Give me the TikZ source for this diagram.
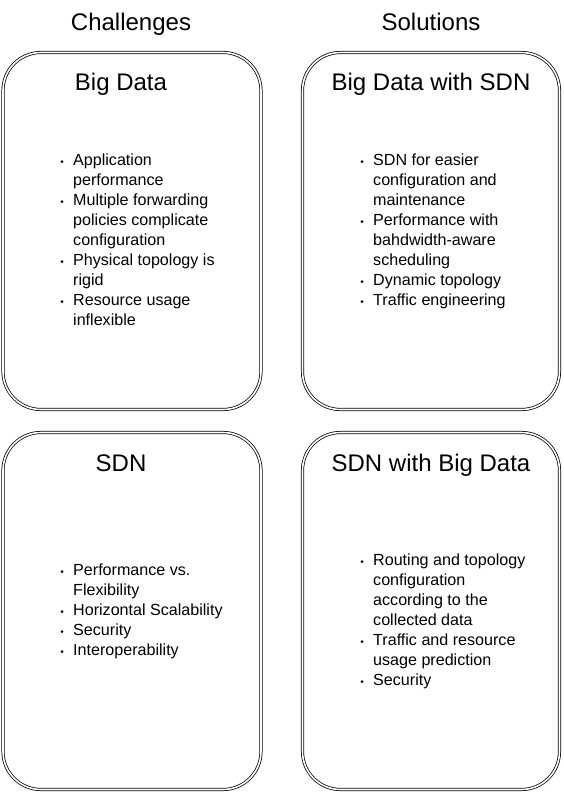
\documentclass[tikz,border=0pt]{standalone}
\usepackage{fontspec}
\setmainfont{Liberation Sans}
\begin{document}
\begin{tikzpicture}[x=1pt,y=-1pt,
  panel/.style={draw=black,double=white,double distance=1.6pt,line width=0.75pt,rounded corners=38pt},
  head/.style={anchor=base,inner sep=0pt,font=\fontsize{24}{24}\selectfont},
  item/.style={anchor=base west,inner sep=0pt,font=\fontsize{16.1}{20}\selectfont},
  bul/.style={circle,fill=black,inner sep=0pt,minimum size=3pt}]
\useasboundingbox (0,0) rectangle (563,796);
% panels
\draw[panel] (3,52.5) rectangle (261,409.5);
\draw[panel] (302.5,52.5) rectangle (559.5,409.5);
\draw[panel] (3,432.5) rectangle (261,789.5);
\draw[panel] (302.5,432.5) rectangle (559.5,789.5);
% column headings
\node[head] (chal) at (131,30.5) {Challenges};
\node[head] (sol) at (431,30.5) {Solutions};
% panel titles
\node[head] (t1) at (121,90.5) {Big Data};
\node[head] (t2) at (431,90.5) {Big Data with SDN};
\node[head] (t3) at (121,471) {SDN};
\node[head] (t4) at (431,471) {SDN with Big Data};
% top-left items
\node[bul] (b11) at (62,161.5) {};
\node[item] (a1) at (73,165.5) {Application};
\node[item] (a2) at (73,185.5) {performance};
\node[bul] (b12) at (62,201.5) {};
\node[item] (a3) at (73,205.5) {Multiple forwarding};
\node[item] (a4) at (73,225.5) {policies complicate};
\node[item] (a5) at (73,245.5) {configuration};
\node[bul] (b13) at (62,261.5) {};
\node[item] (a6) at (73,265.5) {Physical topology is};
\node[item] (a7) at (73,285.5) {rigid};
\node[bul] (b14) at (62,301.5) {};
\node[item] (a8) at (73,305.5) {Resource usage};
\node[item] (a9) at (73,325.5) {inflexible};
% top-right items
\node[bul] (b21) at (362,161.5) {};
\node[item] (c1) at (373,165.5) {SDN for easier};
\node[item] (c2) at (373,185.5) {configuration and};
\node[item] (c3) at (373,205.5) {maintenance};
\node[bul] (b22) at (362,221.5) {};
\node[item] (c4) at (373,225.5) {Performance with};
\node[item] (c5) at (373,245.5) {bahdwidth-aware};
\node[item] (c6) at (373,265.5) {scheduling};
\node[bul] (b23) at (362,281.5) {};
\node[item] (c7) at (373,285.5) {Dynamic topology};
\node[bul] (b24) at (362,301.5) {};
\node[item] (c8) at (373,305.5) {Traffic engineering};
% bottom-left items
\node[bul] (b31) at (62,571.5) {};
\node[item] (d1) at (73,575.5) {Performance vs.};
\node[item] (d2) at (73,595.5) {Flexibility};
\node[bul] (b32) at (62,611.5) {};
\node[item] (d3) at (73,615.5) {Horizontal Scalability};
\node[bul] (b33) at (62,631.5) {};
\node[item] (d4) at (73,635.5) {Security};
\node[bul] (b34) at (62,651.5) {};
\node[item] (d5) at (73,655.5) {Interoperability};
% bottom-right items
\node[bul] (b41) at (362,561.5) {};
\node[item] (e1) at (373,565.5) {Routing and topology};
\node[item] (e2) at (373,585.5) {configuration};
\node[item] (e3) at (373,605.5) {according to the};
\node[item] (e4) at (373,625.5) {collected data};
\node[bul] (b42) at (362,641.5) {};
\node[item] (e5) at (373,645.5) {Traffic and resource};
\node[item] (e6) at (373,665.5) {usage prediction};
\node[bul] (b43) at (362,681.5) {};
\node[item] (e7) at (373,685.5) {Security};
\end{tikzpicture}
\end{document}
